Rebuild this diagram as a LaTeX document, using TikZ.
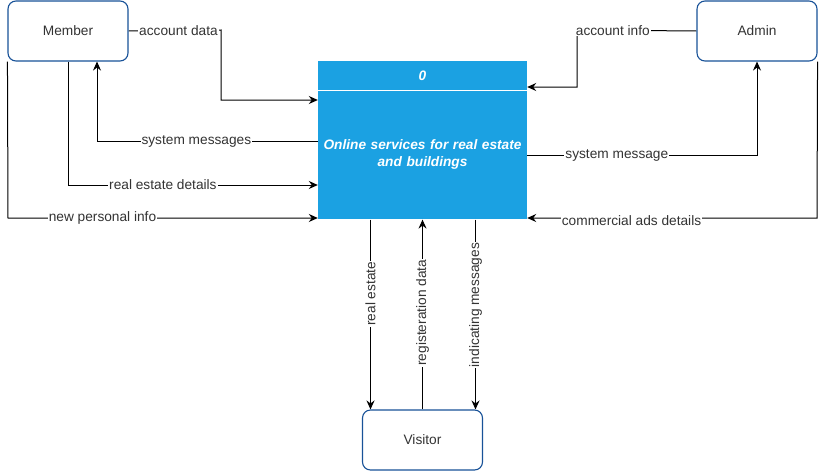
\documentclass[tikz,border=0pt]{standalone}
\usepackage{fontspec}
\setmainfont{Liberation Sans}
\usepackage{tikz}
\usetikzlibrary{arrows.meta}
\usetikzlibrary{positioning}
\usetikzlibrary{backgrounds}
\definecolor{entityblue}{RGB}{24,82,152}
\definecolor{procblue}{RGB}{27,161,226}
\definecolor{textgray}{RGB}{51,51,51}
\tikzstyle{entity}=[draw=entityblue, line width=1.1pt, fill=white, rounded corners=8pt,
  minimum width=120pt, minimum height=60pt, text=textgray,
  font=\fontsize{13.7}{16}\selectfont]
\tikzstyle{process}=[fill=procblue, minimum width=209pt, inner sep=0pt,
  text=white, text width=200pt, align=center,
  font=\fontsize{13.7}{17}\selectfont\bfseries\itshape]
\tikzstyle{line} = [draw, line width=1pt, -{Stealth[length=9pt,width=8pt,inset=3pt]}]
\tikzstyle{lbl} = [fill=white, inner sep=1pt, text=textgray,
  font=\fontsize{13.7}{16}\selectfont]
\newcommand{\entity}[3]{node (#1) [entity] at (#2) {#3}}

\begin{document}
\begin{tikzpicture}[x=1pt,y=-1pt]
    \useasboundingbox (0,0) rectangle (826,471);

    % Draw diagram elements
    \path \entity{member}{68,31}{Member};
    \path \entity{admin}{757,31}{Admin};
    \path \entity{visitor}{422.5,440}{Visitor};
    \node (hdr) [process, minimum height=29pt] at (422.5,75.5) {0};
    \node (body) [process, minimum height=129pt, below=0pt of hdr]
      {Online services for real estate\\and buildings};
    \draw [white, line width=1pt] (hdr.south west) -- (hdr.south east);

    % Draw arrows between elements
    \begin{scope}[on background layer]
      \path [line] (member.east) -- node [lbl, pos=0.54] {account data} (221,30)
        -- (221,100) -- (body.west |- 221,100);
      \path [line] (body.west |- 0,141) -- node [lbl, pos=0.55] {system messages} (97,141)
        -- (member.south -| 97,0);
      \path [line] (member.south) -- (68,185)
        -- node [lbl, pos=0.38] {real estate details} (body.west |- 0,185);
      \path [line] (member.south west) -- (8,218)
        -- node [lbl, pos=0.305] {new personal info} (body.west |- 0,218);
      \path [line] (admin.west) -- node [lbl, pos=0.7] {account info} (577,30)
        -- (577,87) -- (hdr.east |- 0,87);
      \path [line] (body.east |- 0,155) -- node [lbl, pos=0.39] {system message} (757,155)
        -- (admin.south);
      \path [line] (admin.south east) -- (817,218)
        -- node [lbl, pos=0.64, yshift=-3pt] {commercial ads details} (body.east |- 0,218);
      \path [line] ([xshift=-52pt]body.south) -- node [lbl, rotate=90, pos=0.39] {real estate}
        ([xshift=-52pt]visitor.north);
      \path [line] (visitor.north) -- node [lbl, rotate=90, pos=0.51] {registeration data}
        (body.south);
      \path [line] ([xshift=53pt]body.south) -- node [lbl, rotate=90, pos=0.45] {indicating messages}
        ([xshift=53pt]visitor.north);
    \end{scope}

\end{tikzpicture}
\end{document}
